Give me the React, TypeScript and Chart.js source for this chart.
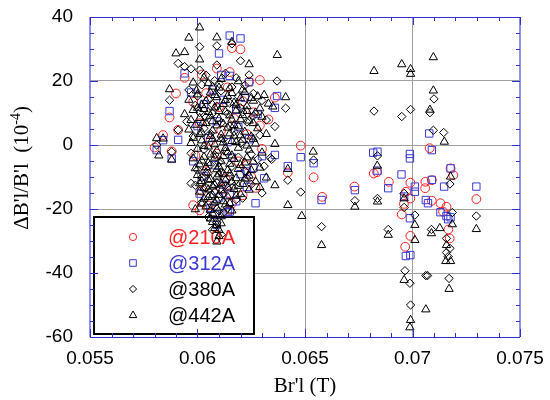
import React, { useEffect, useRef } from 'react';
import { Chart, registerables } from 'chart.js';
Chart.register(...registerables);

type P = [number, number];

const seriesLabels = ['@210A', '@312A', '@380A', '@442A'];
const seriesColors = ['#ff2020', '#3a3ad8', '#000000', '#000000'];
const xTickValues = [0.055, 0.06, 0.065, 0.07, 0.075];
const yTickValues = [-60, -40, -20, 0, 20, 40];

const s210: P[] = [
  [0.0580, -0.8], [0.0584, 3.1], [0.0588, -2.0], [0.0587, 8.6], [0.0591, 4.7], [0.0590, 16.1], [0.0594, 21.0],
  [0.0602, 22.0], [0.0609, 23.9], [0.0616, 30.3], [0.0620, 29.9], [0.0615, 22.8], [0.0624, 19.8], [0.0629, 20.3],
  [0.0636, 14.8], [0.0598, 13.5], [0.0604, 16.2], [0.0610, 11.8], [0.0614, 18.0], [0.0621, 13.7], [0.0626, 10.2],
  [0.0601, 6.8], [0.0606, 1.2], [0.0611, 4.6], [0.0617, 8.3], [0.0623, 3.4], [0.0629, 6.1], [0.0599, -3.3],
  [0.0604, -8.2], [0.0609, -2.7], [0.0613, -10.5], [0.0619, -5.1], [0.0625, -9.9], [0.0630, -1.2], [0.0602, -14.3],
  [0.0605, -18.9], [0.0611, -13.6], [0.0616, -18.3], [0.0621, -15.7], [0.0627, -13.4], [0.0601, -20.4], [0.0633, 8.0],
  [0.0598, -18.8], [0.0623, -6.3], [0.0615, -15.1], [0.0615, -20.3], [0.0642, -8.6],
  [0.0648, -0.2], [0.0654, -10.1], [0.0658, -16.2], [0.0673, -13.0], [0.0682, -8.9], [0.06835, -8.5], [0.0689, -11.5],
  [0.0699, -11.8], [0.0697, -14.6], [0.0699, -16.7], [0.0696, -18.4], [0.0695, -21.7], [0.0699, -28.4], [0.06966, -31.8],
  [0.0708, -1.0], [0.0706, -11.5], [0.0709, -11.0], [0.07059, -13.5], [0.0709, -17.4], [0.0713, -18.2], [0.07158, -19.3],
  [0.07142, -20.8], [0.07177, -7.3], [0.0719, -9.4], [0.07167, -26.4], [0.07173, -29.2], [0.07297, -16.9],
];

const s312: P[] = [
  [0.0594, 22.4], [0.0610, 28.6], [0.0615, 34.2], [0.0620, 33.3], [0.0615, 21.6], [0.0624, 19.6], [0.0637, 15.3],
  [0.0636, 11.6], [0.0636, -3.1], [0.0587, 10.6], [0.0591, 1.6], [0.0581, -1.6], [0.0584, 1.5], [0.0588, -4.2],
  [0.0597, 16.4], [0.0603, 12.8], [0.0607, 17.3], [0.0612, 14.1], [0.0618, 11.0], [0.0622, 14.8], [0.0628, 9.7],
  [0.0600, 5.9], [0.0605, 2.2], [0.0609, 7.4], [0.0614, 0.9], [0.0619, 5.6], [0.0624, 1.8], [0.0630, -3.5],
  [0.0598, -5.1], [0.0603, -9.8], [0.0608, -6.3], [0.0612, -12.4], [0.0616, -3.9], [0.0620, -9.1], [0.0626, -7.2],
  [0.0601, -15.2], [0.0606, -19.7], [0.0610, -16.4], [0.0614, -21.0], [0.0618, -17.6], [0.0623, -13.1], [0.0609, -25.0],
  [0.0608, -21.8], [0.0631, -10.4], [0.0627, -18.2], [0.0611, 21.9], [0.0623, -8.3], [0.0615, -15.5], [0.0615, -20.8],
  [0.0642, -6.6], [0.0648, -3.8],
  [0.0654, -5.7], [0.06577, -17.2], [0.06732, -14.1], [0.06817, -2.4], [0.06837, -2.1], [0.06837, -8.0], [0.06887, -13.5],
  [0.06949, -9.2], [0.06988, -2.8], [0.06988, -4.2], [0.06961, -16.1], [0.07011, -13.0], [0.07011, -14.6], [0.06988, -22.9],
  [0.06969, -34.7], [0.0699, -34.4], [0.07078, 3.6], [0.0709, -1.6], [0.0709, -10.9], [0.07062, -17.2], [0.07072, -18.2],
  [0.07147, -13.0], [0.07177, -7.3], [0.07158, -22.2], [0.07166, -23.2], [0.07177, -22.6], [0.07297, -13.0], [0.0713, -21.0],
];

const s380: P[] = [
  [0.0591, 25.5], [0.0594, 24.5], [0.0597, 23.8], [0.0601, 30.7], [0.0601, 23.4], [0.0609, 31.0], [0.0609, 25.0],
  [0.0616, 31.6], [0.0620, 26.3], [0.0624, 21.9], [0.0637, 20.0], [0.0641, 11.5], [0.0636, 5.8], [0.0634, -4.0],
  [0.0587, 14.0], [0.0581, 0.0], [0.0588, -2.1], [0.0591, 4.7],
  [0.0596, 17.2], [0.0599, 12.4], [0.0602, 18.8], [0.0605, 14.3], [0.0608, 20.1], [0.0611, 16.9], [0.0613, 22.4],
  [0.0616, 18.1], [0.0619, 15.2], [0.0622, 18.6], [0.0626, 16.1], [0.0630, 13.9],
  [0.0595, 7.3], [0.0598, 2.8], [0.0601, 10.2], [0.0604, 8.7], [0.0606, 3.6], [0.0609, 12.1], [0.0611, 6.9],
  [0.0614, 9.8], [0.0617, 4.2], [0.0620, 11.6], [0.0623, 7.2], [0.0626, 9.1], [0.0629, 3.1], [0.0632, 7.8],
  [0.0597, -2.6], [0.0600, -7.8], [0.0603, -1.4], [0.0606, -6.2], [0.0608, -3.1], [0.0611, -8.4], [0.0613, -2.0],
  [0.0616, -6.7], [0.0619, -3.8], [0.0622, -8.1], [0.0625, -2.9], [0.0628, -4.5], [0.0631, -6.6],
  [0.0599, -12.6], [0.0602, -17.9], [0.0604, -13.4], [0.0607, -18.8], [0.0609, -11.8], [0.0612, -15.3], [0.0614, -19.6],
  [0.0617, -12.9], [0.0621, -16.6], [0.0625, -12.3], [0.0630, -15.0], [0.0605, -22.5], [0.0609, -24.3], [0.0612, -21.2],
  [0.0600, 15.3], [0.0604, 21.8], [0.0607, 12.6], [0.0610, 19.2], [0.0615, 13.1], [0.0618, 21.0], [0.0621, 10.3],
  [0.0603, 5.2], [0.0607, 9.9], [0.0612, 1.8], [0.0615, 5.9], [0.0620, 0.6], [0.0602, -10.2], [0.0605, -8.8],
  [0.0608, -14.7], [0.0610, -5.5], [0.0613, -12.6], [0.0615, -9.9], [0.0618, -17.1], [0.0623, -10.4], [0.0606, -15.9],
  [0.0610, -20.6], [0.0607, -26.5], [0.0611, -28.0],
  [0.0597, -12.0], [0.06345, -4.5], [0.0642, -11.0], [0.0648, -14.7],
  [0.0654, -4.7], [0.06577, -25.5], [0.06732, -17.4], [0.06837, -3.4], [0.06837, -16.7], [0.06887, -26.4], [0.06961, -15.1],
  [0.06961, -19.5], [0.06965, -39.3], [0.06988, -43.2], [0.06991, -50.0], [0.07011, -21.9], [0.07062, -40.8], [0.0707, -40.8],
  [0.07088, -26.4], [0.07097, 4.6], [0.07145, 3.9], [0.07174, -12.2], [0.07185, -21.1], [0.07158, -29.2], [0.07174, -32.3],
  [0.07158, -33.6], [0.07166, -34.9], [0.0717, -41.7], [0.07297, -22.2], [0.06821, 10.6], [0.0695, 8.9], [0.06991, 11.1],
  [0.07081, 10.1], [0.071, 14.4],
];

const s442: P[] = [
  [0.0590, 28.6], [0.0594, 29.0], [0.0596, 33.5], [0.0601, 36.7], [0.0601, 26.7], [0.0609, 33.6], [0.0616, 32.2],
  [0.0624, 25.2], [0.0587, 17.4], [0.0581, 2.1], [0.0584, 2.0], [0.0582, -3.3], [0.0588, -4.6],
  [0.0598, 19.5], [0.0603, 21.0], [0.0607, 18.2], [0.0611, 20.6], [0.0615, 17.8], [0.0619, 19.9], [0.0622, 16.5],
  [0.0628, 15.2], [0.0631, 15.6],
  [0.0596, 14.1], [0.0600, 15.8], [0.0604, 13.7], [0.0606, 16.4], [0.0609, 14.9], [0.0612, 12.8], [0.0614, 15.3],
  [0.0617, 13.2], [0.0620, 14.6], [0.0623, 12.1], [0.0626, 13.8], [0.0629, 11.4], [0.0633, 12.9],
  [0.0594, 9.6], [0.0598, 10.9], [0.0601, 8.4], [0.0603, 11.2], [0.0606, 9.1], [0.0608, 11.7], [0.0610, 8.2],
  [0.0613, 10.4], [0.0616, 7.9], [0.0618, 10.8], [0.0621, 9.3], [0.0624, 7.6], [0.0627, 10.1], [0.0630, 8.8],
  [0.0596, 4.8], [0.0599, 6.3], [0.0602, 3.9], [0.0604, 6.8], [0.0607, 4.5], [0.0609, 6.1], [0.0611, 3.2],
  [0.0614, 5.4], [0.0617, 2.9], [0.0619, 5.8], [0.0622, 4.1], [0.0625, 2.6], [0.0628, 5.2], [0.0632, 3.4],
  [0.0597, 0.6], [0.0600, -1.2], [0.0602, 1.4], [0.0605, -0.5], [0.0607, 1.9], [0.0609, -1.8], [0.0612, 0.8],
  [0.0614, -2.3], [0.0616, 1.2], [0.0619, -0.9], [0.0621, 1.6], [0.0624, -1.5], [0.0627, 0.4], [0.0630, -2.4],
  [0.0598, -4.2], [0.0601, -6.1], [0.0603, -3.7], [0.0605, -5.6], [0.0608, -4.0], [0.0610, -6.8], [0.0612, -3.5],
  [0.0615, -5.9], [0.0617, -4.4], [0.0620, -6.3], [0.0623, -3.9], [0.0626, -5.2], [0.0629, -7.1],
  [0.0600, -9.4], [0.0602, -11.3], [0.0604, -8.6], [0.0606, -10.7], [0.0608, -12.5], [0.0610, -9.2], [0.0613, -11.0],
  [0.0615, -8.9], [0.0618, -10.4], [0.0621, -12.2], [0.0624, -9.6], [0.0627, -11.4], [0.0632, -10.2],
  [0.0601, -14.6], [0.0603, -16.8], [0.0605, -13.9], [0.0607, -15.7], [0.0609, -17.3], [0.0611, -14.2], [0.0614, -16.1],
  [0.0617, -13.8], [0.0620, -15.4], [0.0624, -14.0], [0.0629, -13.2], [0.0636, -12.6],
  [0.0599, -20.1], [0.0604, -19.2], [0.0607, -21.4], [0.0609, -19.8], [0.0611, -22.3], [0.0613, -18.6], [0.0616, -20.5],
  [0.0609, -25.0], [0.0610, -26.6], [0.0609, -30.2], [0.0607, -24.1], [0.0635, 12.0],
  [0.05995, 17.0], [0.0602, 12.5], [0.0605, 19.3], [0.0608, 15.6], [0.0610, 17.9], [0.0613, 14.0], [0.0616, 16.2],
  [0.0618, 12.4], [0.0621, 17.3], [0.0625, 14.7],
  [0.0597, 7.8], [0.0600, 11.6], [0.06025, 6.9], [0.0605, 10.3], [0.0607, 7.4], [0.0610, 10.6], [0.0612, 6.6],
  [0.0615, 9.2], [0.0617, 6.2], [0.0620, 8.0], [0.0623, 10.6], [0.0626, 6.8],
  [0.0598, 2.2], [0.0601, 3.4], [0.0603, -0.3], [0.0606, 2.8], [0.0608, 0.2], [0.0611, 1.9], [0.0613, -1.0],
  [0.0615, 3.6], [0.0618, 0.9], [0.0620, 3.0], [0.0623, -0.2], [0.0626, 1.9],
  [0.0599, -7.3], [0.0602, -4.9], [0.0604, -7.0], [0.0606, -3.0], [0.0609, -7.6], [0.0611, -5.1], [0.0614, -7.9],
  [0.0616, -3.3], [0.0619, -7.5], [0.0622, -5.5], [0.0625, -7.9],
  [0.0601, -12.0], [0.0603, -13.4], [0.0605, -10.9], [0.0607, -13.0], [0.0609, -9.9], [0.0611, -12.0], [0.0612, -9.0],
  [0.0614, -13.3], [0.0616, -11.5], [0.0619, -12.8], [0.0622, -10.5],
  [0.0602, -18.3], [0.0605, -16.3], [0.0606, -20.3], [0.0608, -18.0], [0.0610, -15.6], [0.0612, -17.6], [0.0615, -18.2],
  [0.0618, -15.9], [0.0606, -23.0], [0.0608, -26.0], [0.0611, -24.5], [0.0610, -28.5],
  [0.06371, 28.1], [0.0641, 14.9], [0.0636, 0.3], [0.06538, -2.1], [0.0642, -7.5], [0.0642, -18.8], [0.06485, -22.2],
  [0.06577, -31.3], [0.06821, 23.1], [0.0695, 25.2], [0.06991, 23.7], [0.06991, 22.2], [0.07097, 27.4], [0.07097, 17.0],
  [0.07081, 11.0], [0.07148, 1.0], [0.06836, -6.5], [0.06732, -19.3], [0.06837, -17.7], [0.06887, -28.1], [0.06961, -16.7],
  [0.06961, -42.2], [0.07011, -25.0], [0.07011, -29.7], [0.06991, -54.7], [0.06988, -57.0], [0.07062, -51.4], [0.07088, -27.6],
  [0.07127, -26.0], [0.07177, -9.9], [0.07185, -24.8], [0.07158, -31.3], [0.07155, -36.3], [0.07177, -36.3], [0.0717, -45.0],
  [0.07297, -26.3],
];

const seriesData = [s210, s312, s380, s442];
const pointStyles = ['circle', 'rect', 'rectRot', 'triangle'];
const pointRadii = [4.4, 5.2, 4.2, 4.8];

const SERIF = '"Liberation Serif", "Times New Roman", serif';
const SANS = '"Liberation Sans", Arial, sans-serif';

const framePlugin = {
  id: 'framePlugin',
  beforeDatasetsDraw(chart: any) {
    const { ctx } = chart;
    ctx.save();
    const bx = 94, by = 217, bw = 160, bh = 117;
    ctx.fillStyle = '#ffffff';
    ctx.fillRect(bx, by, bw, bh);
    ctx.strokeStyle = '#000000';
    ctx.lineWidth = 2;
    ctx.strokeRect(bx, by, bw, bh);
    const rowY = [237, 263, 289, 315];
    ctx.font = '20px ' + SANS;
    ctx.textBaseline = 'middle';
    ctx.textAlign = 'left';
    for (let i = 0; i < seriesLabels.length; i++) {
      const cx = 133, cy = rowY[i];
      ctx.strokeStyle = seriesColors[i];
      ctx.lineWidth = 1;
      ctx.beginPath();
      if (i === 0) ctx.arc(cx, cy, 3.6, 0, Math.PI * 2);
      else if (i === 1) ctx.rect(cx - 3.3, cy - 3.3, 6.6, 6.6);
      else if (i === 2) { ctx.moveTo(cx, cy - 3.6); ctx.lineTo(cx + 3.6, cy); ctx.lineTo(cx, cy + 3.6); ctx.lineTo(cx - 3.6, cy); ctx.closePath(); }
      else { ctx.moveTo(cx, cy - 4); ctx.lineTo(cx + 3.8, cy + 2.6); ctx.lineTo(cx - 3.8, cy + 2.6); ctx.closePath(); }
      ctx.stroke();
      ctx.fillStyle = seriesColors[i];
      ctx.fillText(seriesLabels[i], 168, cy + 1);
    }
    ctx.restore();
  },
  afterDraw(chart: any) {
    const { ctx, chartArea: a, scales } = chart;
    const xs = scales.x, ys = scales.y;
    ctx.save();
    ctx.strokeStyle = '#9090ee';
    ctx.lineWidth = 2;
    ctx.beginPath();
    ctx.moveTo(a.left, a.top); ctx.lineTo(a.left, a.bottom);
    ctx.moveTo(a.right, a.top); ctx.lineTo(a.right, a.bottom);
    ctx.stroke();
    ctx.strokeStyle = '#3030d0';
    ctx.lineWidth = 1;
    ctx.beginPath();
    ctx.moveTo(a.left, Math.round(a.top) + 0.5); ctx.lineTo(a.right, Math.round(a.top) + 0.5);
    ctx.moveTo(a.left, Math.round(a.bottom) + 0.5); ctx.lineTo(a.right, Math.round(a.bottom) + 0.5);
    for (let k = 55; k <= 75; k++) {
      const px = Math.round(xs.getPixelForValue(k / 1000)) + 0.5;
      const len = k % 5 === 0 ? 8 : 4;
      ctx.moveTo(px, a.bottom); ctx.lineTo(px, a.bottom - len);
      ctx.moveTo(px, a.top); ctx.lineTo(px, a.top + len);
    }
    for (let v = -60; v <= 40; v += 5) {
      const py = Math.round(ys.getPixelForValue(v)) + 0.5;
      const len = v % 20 === 0 ? 8 : 4;
      ctx.moveTo(a.left, py); ctx.lineTo(a.left + len, py);
      ctx.moveTo(a.right, py); ctx.lineTo(a.right - len, py);
    }
    ctx.stroke();

    ctx.fillStyle = '#000000';
    ctx.font = '21px ' + SERIF;
    ctx.textAlign = 'center';
    ctx.textBaseline = 'middle';
    ctx.fillText("Br'l (T)", (a.left + a.right) / 2, 386);

    ctx.translate(21, 168);
    ctx.rotate(-Math.PI / 2);
    const main = "\u0394B'l/B'l  (10";
    const sup = '-4';
    const close = ')';
    ctx.font = '21px ' + SERIF;
    const w1 = ctx.measureText(main).width;
    const w3 = ctx.measureText(close).width;
    ctx.font = '14px ' + SERIF;
    const w2 = ctx.measureText(sup).width;
    const total = w1 + w2 + w3;
    const x0 = -total / 2;
    ctx.textAlign = 'left';
    ctx.textBaseline = 'alphabetic';
    ctx.font = '21px ' + SERIF;
    ctx.fillText(main, x0, 7);
    ctx.font = '14px ' + SERIF;
    ctx.fillText(sup, x0 + w1, -1);
    ctx.font = '21px ' + SERIF;
    ctx.fillText(close, x0 + w1 + w2, 7);
    ctx.restore();
  },
};

export default function App() {
  const ref = useRef<HTMLCanvasElement | null>(null);
  useEffect(() => {
    if (!ref.current) return;
    const datasets = seriesData.map((d, i) => ({
      label: seriesLabels[i],
      data: d.map(([x, y]) => ({ x, y })),
      pointStyle: pointStyles[i] as any,
      pointRadius: pointRadii[i],
      pointHoverRadius: pointRadii[i],
      pointBorderWidth: 1,
      borderColor: seriesColors[i],
      backgroundColor: 'rgba(0,0,0,0)',
      showLine: false,
      order: 3 - i,
    }));
    const chart = new Chart(ref.current, {
      type: 'scatter',
      data: { datasets },
      options: {
        animation: false,
        responsive: false,
        devicePixelRatio: 1,
        layout: { padding: { left: 0, top: 17, right: 30, bottom: 0 } },
        plugins: { legend: { display: false }, tooltip: { enabled: false } },
        scales: {
          x: {
            type: 'linear',
            min: 0.055,
            max: 0.075,
            afterFit: (s: any) => { s.height = 63; s.paddingLeft = 0; s.paddingRight = 0; },
            afterBuildTicks: (s: any) => { s.ticks = xTickValues.map((v) => ({ value: v })); },
            ticks: {
              font: { family: SANS, size: 19 },
              color: '#000',
              padding: 10,
              maxRotation: 0,
              autoSkip: false,
              callback: (v: any) => String(Number(Number(v).toFixed(3))),
            },
            grid: {
              drawTicks: false,
              color: (c: any) => (c.tick && (c.tick.value <= 0.0551 || c.tick.value >= 0.0749) ? 'rgba(0,0,0,0)' : '#a0a0a0'),
              lineWidth: 1,
            },
            border: { display: false },
          },
          y: {
            type: 'linear',
            min: -60,
            max: 40,
            afterFit: (s: any) => { s.width = 90; s.paddingTop = 0; s.paddingBottom = 0; },
            afterBuildTicks: (s: any) => { s.ticks = yTickValues.map((v) => ({ value: v })); },
            ticks: {
              font: { family: SANS, size: 19 },
              color: '#000',
              padding: 17,
              autoSkip: false,
            },
            grid: {
              drawTicks: false,
              color: (c: any) => (c.tick && (c.tick.value <= -60 || c.tick.value >= 40) ? 'rgba(0,0,0,0)' : '#a0a0a0'),
              lineWidth: 1,
            },
            border: { display: false },
          },
        },
      },
      plugins: [framePlugin],
    });
    return () => chart.destroy();
  }, []);
  return (
    <div style={{ position: 'absolute', left: 0, top: 0, width: 550, height: 400, background: '#fff' }}>
      <canvas ref={ref} width={550} height={400} />
    </div>
  );
}
